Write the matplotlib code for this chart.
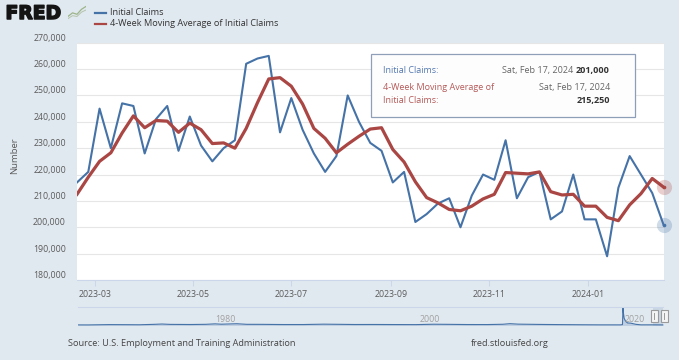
import numpy as np
import pandas as pd
import matplotlib
matplotlib.use("Agg")
import matplotlib.pyplot as plt
import matplotlib.dates as mdates
import matplotlib.patheffects as pe
from matplotlib.lines import Line2D
from matplotlib.patches import Rectangle
from matplotlib.ticker import FuncFormatter

plt.rcParams['font.family'] = ['Open Sans', 'DejaVu Sans']

# weekly initial claims, Sat Feb 18 2023 .. Sat Feb 17 2024
week_start = "2023-02-18"
initial_claims = [217000, 221000, 245000, 230000, 247000, 246000, 228000, 241000,
                  246000, 229000, 242000, 231000, 225000, 230000, 233000, 262000,
                  264000, 265000, 236000, 249000, 237000, 228000, 221000, 227000,
                  250000, 240000, 232000, 229000, 217000, 221000, 202000, 205000,
                  209000, 211000, 200000, 212000, 220000, 218000, 233000, 211000,
                  219000, 221000, 203000, 206000, 220000, 203000, 203000, 189000,
                  215000, 227000, 220000, 213000, 201000]
moving_avg = [212500, 219000, 225000, 228250, 235750, 242250, 237750, 240500,
              240250, 236000, 239500, 237000, 231750, 232000, 230000, 237500,
              247250, 256250, 256750, 253500, 246750, 237500, 233750, 228250,
              231500, 234500, 237250, 237750, 229500, 224750, 217250, 211250,
              209250, 206750, 206250, 208000, 210750, 212500, 220750, 220500,
              220250, 221000, 213500, 212250, 212500, 208000, 208000, 203750,
              202500, 208500, 212750, 218500, 215250]
x_ticks = ["2023-03-01", "2023-05-01", "2023-07-01", "2023-09-01", "2023-11-01", "2024-01-01"]
y_ticks = list(range(180000, 270001, 10000))

# rough full history for the navigator strip (thousands, decimal years)
nav_years = [1967.0, 1968.0, 1970.0, 1971.0, 1973.0, 1974.5, 1975.2, 1976.0, 1978.0, 1979.5,
             1980.4, 1981.0, 1982.5, 1983.5, 1985.0, 1987.0, 1989.0, 1991.0, 1992.5, 1994.0,
             1996.0, 1998.0, 2000.0, 2001.7, 2003.0, 2005.0, 2007.0, 2008.5, 2009.2, 2010.0,
             2012.0, 2014.0, 2016.0, 2018.0, 2020.0, 2020.19, 2020.22, 2020.24, 2020.28, 2020.35,
             2020.5, 2020.7, 2021.0, 2021.5, 2022.0, 2023.0, 2024.13]
nav_claims = [200, 195, 300, 290, 250, 400, 500, 380, 340, 400,
              560, 440, 600, 400, 390, 330, 330, 450, 400, 340,
              350, 320, 300, 430, 400, 330, 320, 420, 620, 460,
              370, 310, 260, 220, 215, 300, 3300, 6100, 4400, 2500,
              1400, 850, 800, 400, 220, 230, 201]
nav_labels = [1980, 2000, 2020]

W, H = 679, 360


def fx(px):
    return px / W


def fy(py):
    return 1 - py / H


fig = plt.figure(figsize=(W / 100, H / 100), dpi=100, facecolor="#e1e9f0")

dates = pd.date_range(week_start, periods=len(initial_claims), freq="7D")

# main plot
ax = fig.add_axes([fx(77), fy(280), (663.5 - 77) / W, (280 - 42.7) / H])
ax.set_facecolor("white")
ax.plot(dates, initial_claims, color="#4572a7", lw=1.5, zorder=3, solid_joinstyle="round")
ax.plot(dates, moving_avg, color="#aa4643", lw=2.3, zorder=4, solid_joinstyle="round")

# hover markers on the last point
ax.scatter([dates[-1]], [initial_claims[-1]], s=120, color="#4572a7", alpha=0.25, lw=0, clip_on=False, zorder=5)
ax.scatter([dates[-1]], [moving_avg[-1]], s=120, color="#aa4643", alpha=0.25, lw=0, clip_on=False, zorder=5)
ax.scatter([dates[-1]], [initial_claims[-1]], s=7, color="#4572a7", lw=0, clip_on=False, zorder=6)
ax.scatter([dates[-1]], [moving_avg[-1]], s=7, color="#aa4643", lw=0, clip_on=False, zorder=6)

ax.set_xlim(dates[0], dates[-1])
ax.set_ylim(y_ticks[0], y_ticks[-1])
ax.set_yticks(y_ticks)
ax.yaxis.set_major_formatter(FuncFormatter(lambda v, p: f"{int(v):,}"))
ax.set_xticks(pd.to_datetime(x_ticks))
ax.xaxis.set_major_formatter(mdates.DateFormatter("%Y-%m"))
ax.grid(axis="y", color="#e6e6e6", lw=0.8)
ax.set_axisbelow(True)
for s in ["top", "right", "left"]:
    ax.spines[s].set_visible(False)
ax.spines["bottom"].set_color("#ccd6eb")
ax.tick_params(axis="y", length=0, pad=8, labelsize=6.3, labelcolor="#5a5a5a")
ax.tick_params(axis="x", length=4, width=0.8, color="#ccd6eb", pad=3, labelsize=6.3, labelcolor="#5a5a5a")
plt.setp(ax.get_yticklabels(), va="bottom")

fig.text(fx(15), fy(156), "Number", rotation=90, ha="center", va="center", fontsize=6.8, color="#5a5a5a")

# logo and legend
fig.text(fx(5.5), fy(13.5), "FRED", fontsize=13.5, fontweight="heavy", color="#141414",
         family=["DejaVu Sans"], va="center", ha="left",
         path_effects=[pe.withStroke(linewidth=1.1, foreground="#141414")])
icon = fig.add_axes([fx(68), fy(20), 18 / W, 15 / H])
icon.set_facecolor("#e8ece6")
icon.plot([0, 1, 2, 3, 4], [1, 2, 1.6, 3, 3.8], color="#9cb58a", lw=0.9)
icon.plot([0, 1, 2, 3, 4], [0.4, 1.2, 1.0, 2.2, 2.8], color="#b5c2ab", lw=0.7)
icon.set_xlim(0, 4)
icon.set_ylim(0, 4.2)
icon.axis("off")

fig.add_artist(Line2D([fx(95), fx(106)], [fy(12.7), fy(12.7)], color="#4572a7", lw=1.6))
fig.add_artist(Line2D([fx(95), fx(106)], [fy(24), fy(24)], color="#aa4643", lw=1.6))
fig.text(fx(110), fy(12.7), "Initial Claims", fontsize=6.6, color="#333333", va="center")
fig.text(fx(110), fy(24), "4-Week Moving Average of Initial Claims", fontsize=6.6, color="#333333", va="center")

# tooltip box
fig.add_artist(Rectangle((fx(372), fy(118.5)), (635 - 370.7) / W, (116.7 - 54) / H,
                         facecolor="#9aa7b5", alpha=0.35, lw=0, zorder=9))
fig.add_artist(Rectangle((fx(370.7), fy(116.7)), (635 - 370.7) / W, (116.7 - 54) / H,
                         facecolor="white", edgecolor="#8a9cb5", lw=0.9, alpha=0.97, zorder=10))
tip_kw = dict(fontsize=6.5, va="center", zorder=11)
fig.text(fx(383), fy(70.3), "Initial Claims:", color="#5479b0", **tip_kw)
fig.text(fx(573), fy(70.3), "Sat, Feb 17, 2024", color="#666666", ha="right", **tip_kw)
fig.text(fx(610), fy(70.3), f"{initial_claims[-1]:,}", color="#333333", ha="right", fontweight="bold", **tip_kw)
fig.text(fx(383), fy(87.7), "4-Week Moving Average of", color="#b55a58", **tip_kw)
fig.text(fx(383), fy(100.7), "Initial Claims:", color="#b55a58", **tip_kw)
fig.text(fx(610), fy(87.7), "Sat, Feb 17, 2024", color="#666666", ha="right", **tip_kw)
fig.text(fx(610), fy(100.7), f"{moving_avg[-1]:,}", color="#333333", ha="right", fontweight="bold", **tip_kw)

# navigator strip
nav = fig.add_axes([fx(78), fy(325.5), (663.5 - 78) / W, (325.5 - 307) / H])
nav.patch.set_alpha(0)
nav_vals = np.array(nav_claims) * 1000
nav.fill_between(nav_years, nav_vals, 0, color="#a9bcd6", alpha=0.6, lw=0)
nav.plot(nav_years, nav_vals, color="#4572a7", lw=0.8)
nav.axvspan(2023.13, 2024.13, color="#c0cee0", alpha=0.7, lw=0)
nav.set_xlim(1967.0, 2024.2)
nav.set_ylim(0, 6300000)
for s in ["bottom", "right", "left"]:
    nav.spines[s].set_visible(False)
nav.spines["top"].set_color("#ccd6eb")
nav.set_xticks([])
nav.set_yticks([])
for yr in nav_labels:
    nav.text(yr + 0.4, 0.3, str(yr), transform=nav.get_xaxis_transform(), fontsize=6.3,
             color="#a0a0a0", ha="left", va="center")

for hx in (651, 661):
    fig.add_artist(Rectangle((fx(hx), fy(322)), 6.5 / W, 12 / H, facecolor="#f4f4f4",
                             edgecolor="#9a9a9a", lw=0.8, zorder=10))
    fig.add_artist(Line2D([fx(hx + 3.25), fx(hx + 3.25)], [fy(319), fy(313)], color="#9a9a9a", lw=0.7, zorder=11))

# footer
fig.text(fx(68), fy(344), "Source: U.S. Employment and Training Administration", fontsize=6.6,
         color="#444444", va="center")
fig.text(fx(470.7), fy(343.5), "fred.stlouisfed.org", fontsize=6.6, color="#444444", va="center")

fig.savefig("out.png", dpi=100, facecolor=fig.get_facecolor())
